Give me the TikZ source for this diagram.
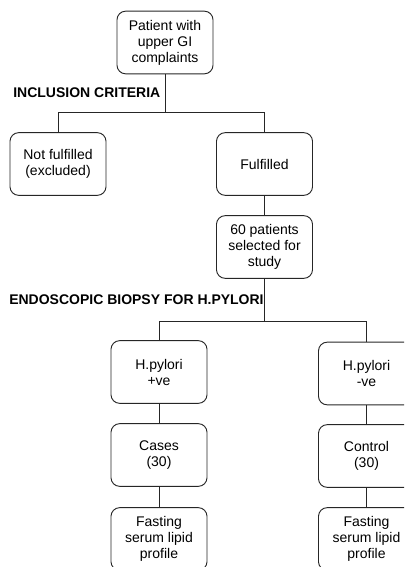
\documentclass[tikz,border=0pt]{standalone}
\usepackage{fontspec}
\setmainfont{Liberation Sans}
\usetikzlibrary{calc}

\begin{document}
\begin{tikzpicture}[x=0.75pt,y=-0.75pt,
	stage/.style={draw=black!85, line width=0.7pt, rounded corners=6.5pt, align=center,
		minimum width=72pt, minimum height=47pt, inner sep=2pt,
		font=\fontsize{10.5}{12}\selectfont},
	crit/.style={anchor=west, inner sep=0pt, font=\fontsize{10.5}{12}\selectfont\bfseries},
	link/.style={draw=black!85, line width=0.7pt}]
	\useasboundingbox (0,0) rectangle (404,567);
	\clip (0,0) rectangle (404,567);
	% Screening
	\node[stage] (patient) at (165,42.5) {Patient with\\upper GI\\complaints};
	\node[crit] (inclusion) at (13,93) {INCLUSION CRITERIA};
	\node[stage] (notful) at (58,164) {Not fulfilled\\(excluded)};
	\node[stage] (ful) at (264.5,164) {Fulfilled};
	\node[stage] (selected) at (264.5,247) {60 patients\\selected for\\study};
	% Biopsy
	\node[crit] (biopsy) at (9,300) {ENDOSCOPIC BIOPSY FOR H.PYLORI};
	\node[stage] (hpos) at (159,372) {H.pylori\\+ve};
	\node[stage] (hneg) at (366.5,373.5) {H.pylori\\-ve};
	\node[stage] (cases) at (159,455) {Cases\\(30)};
	\node[stage] (control) at (366.5,456) {Control\\(30)};
	\node[stage] (lippos) at (159,539) {Fasting\\serum lipid\\profile};
	\node[stage] (lipneg) at (366.5,539) {Fasting\\serum lipid\\profile};
	% Connectors
	\coordinate (split1) at ($(patient.south)+(0,38)$);
	\coordinate (split2) at ($(selected.south)+(0,42.5)$);
	\draw[link] (patient.south) -- (split1);
	\draw[link] (notful.north) |- (split1) -| (ful.north);
	\draw[link] (ful.south) -- (selected.north);
	\draw[link] (selected.south) -- (split2);
	\draw[link] (hpos.north) |- (split2) -| (hneg.north);
	\draw[link] (hpos.south) -- (cases.north);
	\draw[link] (cases.south) -- (lippos.north);
	\draw[link] (hneg.south) -- (control.north);
	\draw[link] (control.south) -- (lipneg.north);
\end{tikzpicture}
\end{document}
